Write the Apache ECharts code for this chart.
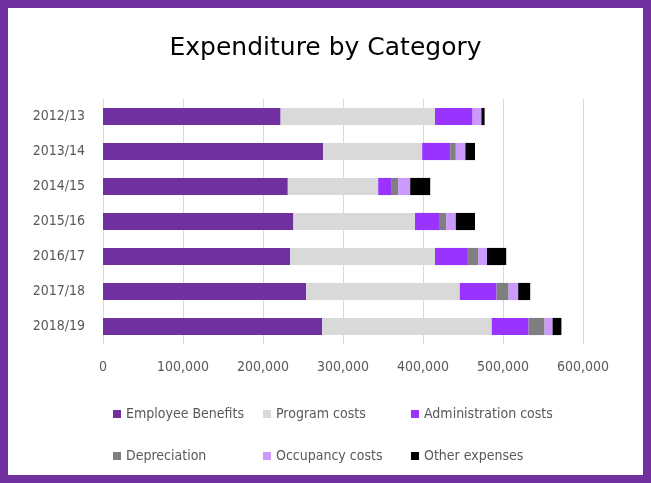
<!DOCTYPE html>
<html><head><meta charset="utf-8">
<script src="https://cdn.jsdelivr.net/npm/echarts@6/dist/echarts.min.js"></script>
<style>html,body{margin:0;padding:0;background:#fff}#c{width:651px;height:483px}</style>
</head><body><div id="c"></div>
<script>
const years = ['2012/13','2013/14','2014/15','2015/16','2016/17','2017/18','2018/19'];
const employeeBenefits = [222000, 275000, 231000, 238000, 234000, 254000, 274000];
const programCosts     = [193000, 124000, 113000, 152000, 181000, 192000, 212000];
const adminCosts       = [47000, 35000, 17000, 30000, 40000, 46000, 46000];
const depreciation     = [0, 7000, 8000, 9000, 14000, 15000, 20000];
const occupancyCosts   = [11000, 12000, 15000, 12000, 11000, 12000, 10000];
const otherExpenses    = [4000, 12000, 25000, 24000, 24000, 15000, 11000];
const xTicks = [0, 100000, 200000, 300000, 400000, 500000, 600000];

const seriesDefs = [
  ['Employee Benefits', employeeBenefits, '#7030A0'],
  ['Program costs', programCosts, '#D9D9D9'],
  ['Administration costs', adminCosts, '#9933FF'],
  ['Depreciation', depreciation, '#7F7F7F'],
  ['Occupancy costs', occupancyCosts, '#CC99FF'],
  ['Other expenses', otherExpenses, '#000000']
];
const legendPos = [[108,402],[258,402],[406,402],[108,444],[258,444],[406,444]];
const chart = echarts.init(document.getElementById('c'));
chart.setOption({
  animation: false,
  backgroundColor: '#fff',
  title: {text: 'Expenditure by Category', left: 'center', top: 31,
    textStyle: {fontFamily: 'DejaVu Sans', fontWeight: 'normal', fontSize: 25, color: '#000'}},
  graphic: [{type: 'rect', shape: {x: 4, y: 4, width: 643, height: 475},
    style: {fill: 'none', stroke: '#7030A0', lineWidth: 8}, silent: true}],
  legend: seriesDefs.map((s, i) => ({
    data: [s[0]], left: legendPos[i][0], top: legendPos[i][1],
    itemWidth: 8, itemHeight: 8, icon: 'rect', itemGap: 4,
    textStyle: {fontFamily: 'Liberation Sans Narrow, DejaVu Sans Condensed, sans-serif', fontSize: 14, color: '#595959'}
  })),
  grid: {left: 103, right: 68, top: 99, bottom: 139, containLabel: false},
  xAxis: {type: 'value', min: 0, max: 600000, interval: 100000,
    axisLine: {show: false}, axisTick: {show: false},
    splitLine: {lineStyle: {color: '#D9D9D9'}},
    axisLabel: {margin: 16, color: '#595959', fontSize: 14,
      fontFamily: 'Liberation Sans Narrow, DejaVu Sans Condensed, sans-serif',
      formatter: v => xTicks.indexOf(v) >= 0 ? v.toLocaleString('en-US') : ''}},
  yAxis: {type: 'category', data: years, inverse: true,
    axisLine: {show: false}, axisTick: {show: false},
    axisLabel: {margin: 18, color: '#595959', fontSize: 14,
      fontFamily: 'Liberation Sans Narrow, DejaVu Sans Condensed, sans-serif'}},
  series: seriesDefs.map(s => ({
    name: s[0], type: 'bar', stack: 'total', data: s[1], barWidth: '49%',
    itemStyle: {color: s[2]}
  }))
});
</script></body></html>
